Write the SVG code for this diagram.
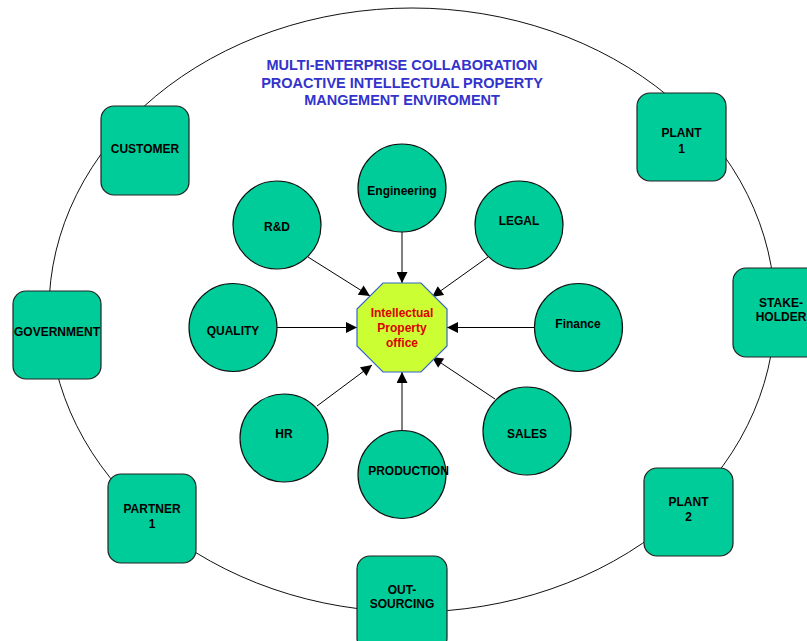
<svg xmlns="http://www.w3.org/2000/svg" width="807" height="641" viewBox="0 0 807 641">
<style>
.box{fill:#00CC99;stroke:#222;stroke-width:1.2}
.circ{fill:#00CC99;stroke:#111;stroke-width:1.2}
.t{font-family:"Liberation Sans",Arial,sans-serif;font-weight:bold;font-size:12px;fill:#000;text-anchor:middle}
.title{font-family:"Liberation Sans",Arial,sans-serif;font-weight:bold;font-size:14.5px;fill:#3333CC;text-anchor:middle}
.ip{font-family:"Liberation Sans",Arial,sans-serif;font-weight:bold;font-size:12px;fill:#DD0000;text-anchor:middle}
.conn line{stroke:#000;stroke-width:1;marker-end:url(#arr)}
</style>
<defs>
<marker id="arr" viewBox="0 0 10 10" refX="10" refY="5" markerWidth="12" markerHeight="11" markerUnits="userSpaceOnUse" orient="auto">
<path d="M0,0 L10,5 L0,10 Z" fill="#000"/>
</marker>
</defs>
<rect width="807" height="641" fill="#fff"/>
<ellipse id="ring" cx="412" cy="310" rx="363" ry="302" fill="none" stroke="#111" stroke-width="1"/>
<g id="title">
<text class="title" x="402" y="70">MULTI-ENTERPRISE COLLABORATION</text>
<text class="title" x="402" y="87.5">PROACTIVE INTELLECTUAL PROPERTY</text>
<text class="title" x="402" y="105">MANGEMENT ENVIROMENT</text>
</g>
<g id="customer"><rect class="box" x="101" y="106" width="88" height="89" rx="13"/><text class="t" x="145" y="153">CUSTOMER</text></g>
<g id="government"><rect class="box" x="13" y="291" width="88" height="88" rx="13"/><text class="t" x="57" y="336">GOVERNMENT</text></g>
<g id="partner1"><rect class="box" x="108" y="474" width="88" height="89" rx="13"/><text class="t" x="152" y="513">PARTNER</text><text class="t" x="152" y="528">1</text></g>
<g id="outsourcing"><rect class="box" x="357" y="556" width="90" height="95" rx="13"/><text class="t" x="402" y="594">OUT-</text><text class="t" x="402" y="608">SOURCING</text></g>
<g id="plant2"><rect class="box" x="644" y="468" width="89" height="88" rx="13"/><text class="t" x="688.5" y="506">PLANT</text><text class="t" x="688.5" y="521">2</text></g>
<g id="stakeholder"><rect class="box" x="733" y="268" width="96" height="89" rx="13"/><text class="t" x="781" y="307">STAKE-</text><text class="t" x="781" y="321">HOLDER</text></g>
<g id="plant1"><rect class="box" x="637" y="93" width="89" height="88" rx="13"/><text class="t" x="681.5" y="137">PLANT</text><text class="t" x="681.5" y="153">1</text></g>
<g class="conn" id="connectors">
<line x1="402" y1="232" x2="402" y2="283"/>
<line x1="308" y1="257" x2="370" y2="296"/>
<line x1="488" y1="257" x2="432" y2="297"/>
<line x1="277" y1="327.5" x2="357" y2="327.5"/>
<line x1="534" y1="327.5" x2="447" y2="327.5"/>
<line x1="317" y1="406" x2="372" y2="365"/>
<line x1="495" y1="399" x2="432" y2="357"/>
<line x1="402" y1="430" x2="402" y2="372"/>
</g>
<g id="engineering"><circle class="circ" cx="402" cy="188" r="44"/><text class="t" x="402" y="195">Engineering</text></g>
<g id="rnd"><circle class="circ" cx="277" cy="225" r="44"/><text class="t" x="277" y="231">R&amp;D</text></g>
<g id="legal"><circle class="circ" cx="519" cy="225" r="44"/><text class="t" x="519" y="225">LEGAL</text></g>
<g id="quality"><circle class="circ" cx="233" cy="327.5" r="44"/><text class="t" x="233" y="335">QUALITY</text></g>
<g id="finance"><circle class="circ" cx="578.5" cy="327.5" r="44"/><text class="t" x="578" y="328">Finance</text></g>
<g id="hr"><circle class="circ" cx="284" cy="438" r="44"/><text class="t" x="284" y="438">HR</text></g>
<g id="production"><circle class="circ" cx="402" cy="474.5" r="44"/><text class="t" x="408.5" y="475">PRODUCTION</text></g>
<g id="sales"><circle class="circ" cx="527" cy="431" r="44"/><text class="t" x="527" y="438">SALES</text></g>
<g id="ipoffice"><polygon points="383,283 421,283 447,309 447,346 421,372 383,372 357,346 357,309" fill="#CCFF33" stroke="#3366CC" stroke-width="1.2"/><text class="ip" x="402" y="317">Intellectual</text><text class="ip" x="402" y="332">Property</text><text class="ip" x="402" y="347">office</text></g>
</svg>
